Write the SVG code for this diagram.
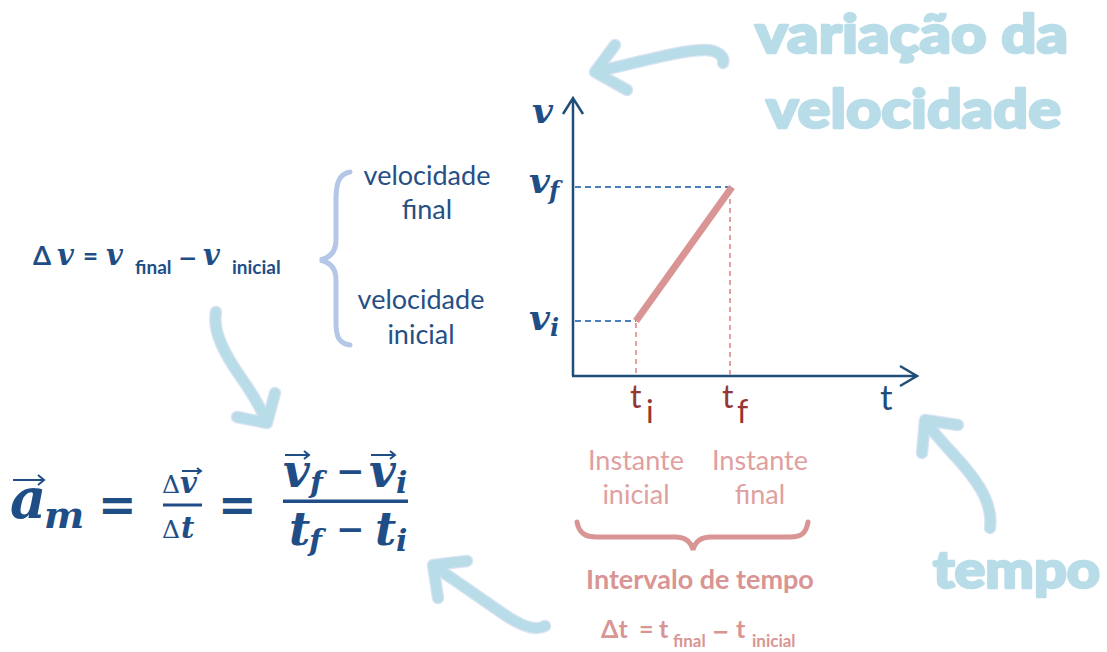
<svg xmlns="http://www.w3.org/2000/svg" width="1107" height="652" viewBox="0 0 1107 652">
<style>
.mi{font-family:"DejaVu Serif",serif;font-weight:bold;font-style:italic;fill:#1f4e87}
.mu{font-family:"DejaVu Serif",serif;fill:#1f4e87}
.op{font-family:"DejaVu Sans",sans-serif;font-weight:bold;fill:#1f4e87}
.sb{font-family:Lato,"Open Sans",sans-serif;font-weight:bold;fill:#1f4e87}
.lbl{font-family:Lato,"Open Sans",sans-serif;fill:#264f84;font-size:27px;text-anchor:middle}
.red{font-family:Lato,"Open Sans",sans-serif;fill:#e0a09f;font-size:27px;text-anchor:middle}
.redb{font-family:Lato,"Open Sans",sans-serif;font-weight:bold;fill:#d99594}
.redo{font-family:"DejaVu Sans",sans-serif;font-weight:bold;fill:#d99594}
.dred{font-family:Lato,"Open Sans",sans-serif;fill:#953735}
.big{font-family:Lato,"Open Sans",sans-serif;font-weight:900;fill:#b8dde8;stroke:#b8dde8;stroke-width:2.5;stroke-linejoin:round}
.axis{fill:none;stroke:#1f4e79;stroke-width:2.5}
.hand{fill:none;stroke:#b8dde8;stroke-width:10;stroke-linecap:round;stroke-linejoin:round}
.handO{fill:none;stroke:#d9e3f2;stroke-width:12.5;stroke-linecap:round;stroke-linejoin:round}
.vec{fill:none;stroke:#1f4e87;stroke-width:2}
</style>

<g id="connectors">
  <g id="arrow-top">
    <path class="handO" d="M595,72 C640,62 680,50 705,50 C718,50 725,57 723,63 M615,45 L595,72 L627,90"/>
    <path class="hand" d="M595,72 C640,62 680,50 705,50 C718,50 725,57 723,63 M615,45 L595,72 L627,90"/>
  </g>
  <g id="arrow-left">
    <path class="handO" d="M216,312 C212,332 226,356 240,376 C254,396 262,410 267,423 M237,417 L267,423 L275,393"/>
    <path class="hand" d="M216,312 C212,332 226,356 240,376 C254,396 262,410 267,423 M237,417 L267,423 L275,393"/>
  </g>
  <g id="arrow-tempo">
    <path class="handO" d="M990,528 C993,505 980,485 963,465 C948,448 935,435 926,422 M958,425 L925,420 L922,453"/>
    <path class="hand" d="M990,528 C993,505 980,485 963,465 C948,448 935,435 926,422 M958,425 L925,420 L922,453"/>
  </g>
  <g id="arrow-bottom">
    <path class="handO" d="M545,626 C535,632 520,625 505,615 C480,598 455,580 435,567 M467,561 L433,565 L438,598"/>
    <path class="hand" d="M545,626 C535,632 520,625 505,615 C480,598 455,580 435,567 M467,561 L433,565 L438,598"/>
  </g>
</g>

<g id="title-variacao">
  <text class="big" x="755" y="53" font-size="54" textLength="313" lengthAdjust="spacingAndGlyphs">variação da</text>
  <text class="big" x="766" y="128" font-size="54" textLength="295" lengthAdjust="spacingAndGlyphs">velocidade</text>
</g>
<g id="title-tempo">
  <text class="big" x="933" y="588" font-size="52" textLength="167" lengthAdjust="spacingAndGlyphs">tempo</text>
</g>

<g id="delta-v-formula">
  <text class="sb" x="33" y="265" font-size="26">Δ</text>
  <text class="mi" x="57" y="265" font-size="29">v</text>
  <text class="sb" x="83" y="265" font-size="26">=</text>
  <text class="mi" x="106" y="265" font-size="29">v</text>
  <text class="sb" x="135" y="274" font-size="19">final</text>
  <text class="op" x="178" y="266" font-size="23">−</text>
  <text class="mi" x="203" y="265" font-size="29">v</text>
  <text class="sb" x="232" y="274" font-size="19">inicial</text>
</g>

<g id="brace-velocidade">
  <path d="M350,172 C338,174 336,185 336,200 L336,240 C336,252 330,258 320,260 C330,262 336,268 336,280 L336,322 C336,336 338,343 350,345" fill="none" stroke="#b4c7e7" stroke-width="5" stroke-linecap="round"/>
  <text class="lbl" x="427" y="185">velocidade</text>
  <text class="lbl" x="427" y="219">final</text>
  <text class="lbl" x="421" y="309">velocidade</text>
  <text class="lbl" x="421" y="344">inicial</text>
</g>

<g id="accel-formula">
  <text class="mi" x="10" y="518" font-size="56">a</text>
  <path class="vec" d="M13,480 L44,480 M38,475 L44,480 L38,485" stroke-width="2.5"/>
  <text class="mi" x="44" y="528" font-size="38">m</text>
  <text class="op" x="98" y="521" font-size="46">=</text>
  <text class="mu" x="162" y="493" font-size="25">Δ</text>
  <text class="mi" x="180" y="493" font-size="29">v</text>
  <path class="vec" d="M182,471 L201,471 M197,468 L201,471 L197,474" stroke-width="1.6"/>
  <rect x="163" y="503.5" width="39" height="3" fill="#1f4e87"/>
  <text class="mu" x="162" y="538" font-size="25">Δ</text>
  <text class="mi" x="181" y="538" font-size="29">t</text>
  <text class="op" x="218" y="521" font-size="46">=</text>
  <text class="mi" x="283" y="487" font-size="46">v</text>
  <path class="vec" d="M285,455 L309,455 M304,451 L309,455 L304,459"/>
  <text class="mi" x="310" y="493" font-size="30">f</text>
  <text class="op" x="336" y="483" font-size="34">−</text>
  <text class="mi" x="369" y="487" font-size="46">v</text>
  <path class="vec" d="M371,455 L395,455 M390,451 L395,455 L390,459"/>
  <text class="mi" x="396" y="493" font-size="30">i</text>
  <rect x="283" y="499.5" width="125" height="3.5" fill="#1f4e87"/>
  <text class="mi" x="289" y="545" font-size="46">t</text>
  <text class="mi" x="309" y="551" font-size="30">f</text>
  <text class="op" x="336" y="541" font-size="34">−</text>
  <text class="mi" x="375" y="545" font-size="46">t</text>
  <text class="mi" x="396" y="551" font-size="30">i</text>
</g>

<g id="graph">
  <path class="axis" d="M573,376 L573,98 M563,114 L573,98 L583,114"/>
  <path class="axis" d="M572,376 L917,376 M900,366 L917,376 L900,386"/>
  <path d="M575,187 L732,187 M575,321 L636,321" stroke="#4a7ebb" stroke-width="2" stroke-dasharray="6,4" fill="none"/>
  <path d="M636,323 L636,375 M730,190 L730,375" stroke="#e3a09f" stroke-width="2" stroke-dasharray="5,4" fill="none"/>
  <path d="M636,321 L732,187" stroke="#d99594" stroke-width="7" stroke-linecap="butt"/>
  <text class="mi" x="532" y="123" font-size="36">v</text>
  <text class="mi" x="529" y="193" font-size="36">v</text>
  <text class="mi" x="549" y="199" font-size="24">f</text>
  <text class="mi" x="529" y="330" font-size="36">v</text>
  <text class="mi" x="550" y="336" font-size="24">i</text>
  <text class="dred" x="630" y="408" font-size="32">t</text>
  <text class="dred" x="646" y="423" font-size="32">i</text>
  <text class="dred" x="722" y="408" font-size="32">t</text>
  <text class="dred" x="737" y="423" font-size="32">f</text>
  <text x="880" y="410" font-size="35" font-family="Lato,'Open Sans',sans-serif" fill="#1f4e79">t</text>
</g>

<g id="intervalo">
  <text class="red" x="636" y="470">Instante</text>
  <text class="red" x="636" y="504">inicial</text>
  <text class="red" x="760" y="470">Instante</text>
  <text class="red" x="760" y="504">final</text>
  <path d="M577,522 C579,533 585,537 597,537 L675,537 C686,537 691,542 693,550 C695,542 700,537 711,537 L790,537 C802,537 806,533 808,522" fill="none" stroke="#d99594" stroke-width="5" stroke-linecap="round"/>
  <text class="redb" x="700" y="589" font-size="27" text-anchor="middle">Intervalo de tempo</text>
  <text class="redb" x="601" y="638" font-size="25">Δt</text>
  <text class="redb" x="639" y="638" font-size="25">=</text>
  <text class="redb" x="659" y="638" font-size="25">t</text>
  <text class="redb" x="673" y="647" font-size="17">final</text>
  <text class="redo" x="712" y="639" font-size="21">−</text>
  <text class="redb" x="736" y="638" font-size="25">t</text>
  <text class="redb" x="752" y="647" font-size="17">inicial</text>
</g>
</svg>
